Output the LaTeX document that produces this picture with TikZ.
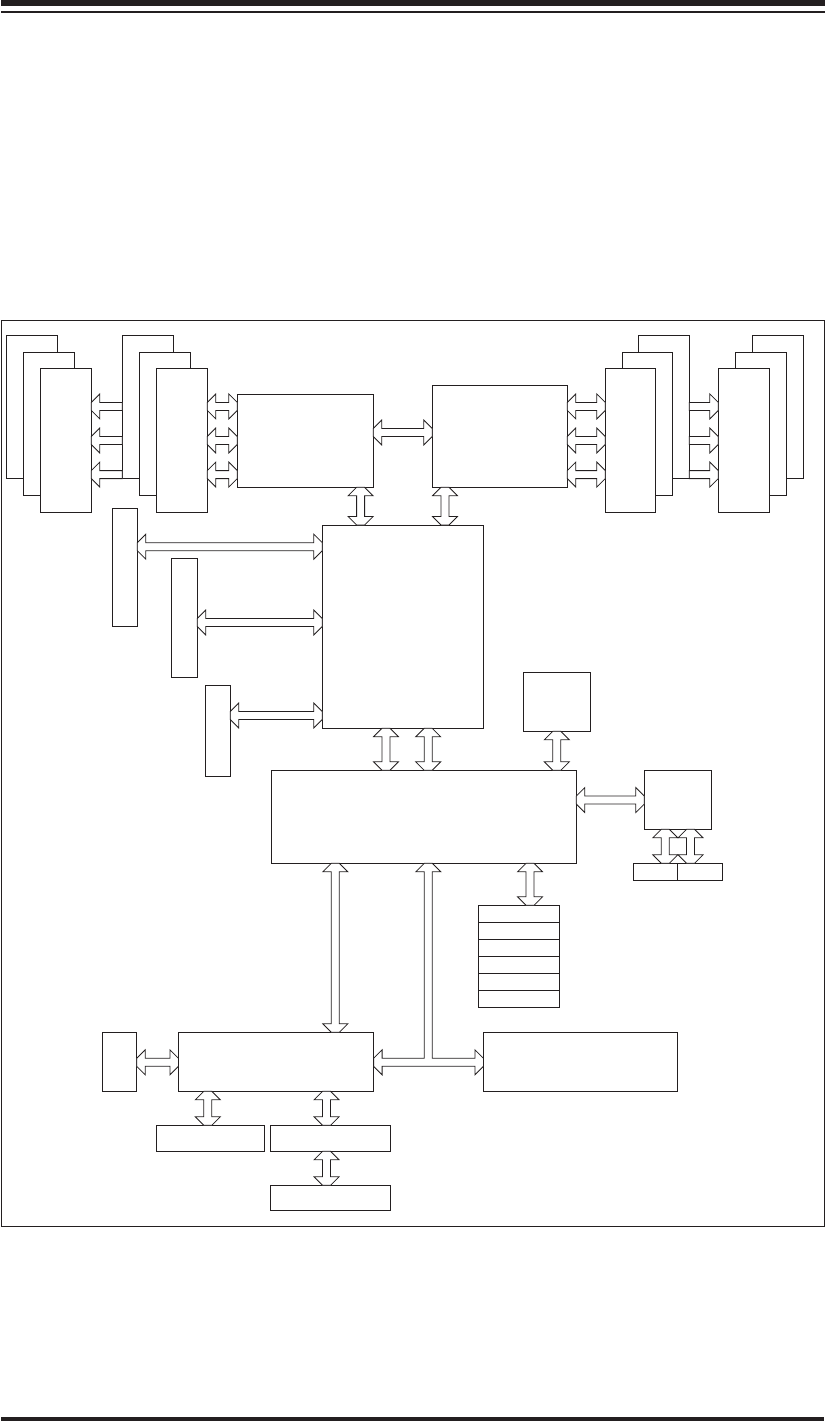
\documentclass[tikz,border=0pt]{standalone}
\usetikzlibrary{calc,fit}
\definecolor{ink}{HTML}{231F20}
\tikzset{
  box/.style={draw=ink, line width=0.9pt, fill=white, inner sep=0pt, outer sep=0pt, rectangle},
  blk/.style={draw=ink, line width=0.8pt, fill=white, line join=miter},
  bar/.style={fill=ink, draw=none},
  framebox/.style={draw=ink, line width=1pt, inner sep=0pt, outer sep=0pt, rectangle}
}
% box: name, x1, y1, x2, y2 (image pixels, y downward)
\newcommand\bx[5]{\node[box, fit={(#2,#3) (#4,#5)}] (#1) {};}
% horizontal double arrow: left tip, right tip
\newcommand\HD[2]{\draw[blk] ($(#1)+(0,-4)$) -- ++(8.5,-8.5) -- ++(0,8.5) -- ($(#2)+(-8.5,-4)$) -- ++(0,-8.5) -- ++(8.5,8.5) -- ++(0,8) -- ++(-8.5,8.5) -- ++(0,-8.5) -- ($(#1)+(8.5,4)$) -- ++(0,8.5) -- ++(-8.5,-8.5) -- cycle;}
% horizontal single arrow, head at left: tip, tail
\newcommand\HL[2]{\draw[blk] ($(#1)+(0,-4)$) -- ++(8.5,-8.5) -- ++(0,8.5) -- ($(#2)+(0,-4)$) -- ++(0,8) -- ($(#1)+(8.5,4)$) -- ++(0,8.5) -- ++(-8.5,-8.5) -- cycle;}
% horizontal single arrow, head at right: tail, tip
\newcommand\HR[2]{\draw[blk] ($(#1)+(0,-4)$) -- ($(#2)+(-8.5,-4)$) -- ++(0,-8.5) -- ++(8.5,8.5) -- ++(0,8) -- ++(-8.5,8.5) -- ++(0,-8.5) -- ($(#1)+(0,4)$) -- cycle;}
% vertical double arrow: top tip, bottom tip
\newcommand\VD[2]{\draw[blk] ($(#1)+(-4,0)$) -- ++(-8.5,8.5) -- ++(8.5,0) -- ($(#2)+(-4,-8.5)$) -- ++(-8.5,0) -- ++(8.5,8.5) -- ++(8,0) -- ++(8.5,-8.5) -- ++(-8.5,0) -- ($(#1)+(4,8.5)$) -- ++(8.5,0) -- ++(-8.5,-8.5) -- cycle;}

\begin{document}
\begin{tikzpicture}[x=1pt,y=-1pt]
\useasboundingbox (0,0) rectangle (826,1421);
% page rules
\fill[bar] (1,0) rectangle (824.5,6);
\fill[bar] (1,11) rectangle (824.5,12.6);
\fill[bar] (1,1417.4) rectangle (824,1421);
% frame
\node[framebox, fit={(1.5,320.5) (824.3,1226.7)}] (frame) {};

% left DIMM stacks
\bx{L1a}{6.3}{335.3}{57.3}{478.3}
\bx{L1b}{23.3}{352.3}{74.3}{495}
\bx{L1c}{40.3}{368.3}{91.3}{512.3}
\bx{L2a}{122.3}{335.3}{173.3}{478.3}
\bx{L2b}{139.3}{352.3}{190.3}{495}
\bx{L2c}{156.3}{368.3}{207.3}{512.3}
% right DIMM stacks
\bx{R1a}{638.3}{335.3}{689.3}{478.3}
\bx{R1b}{622.3}{352.3}{672.3}{495}
\bx{R1c}{605.3}{368.3}{655.7}{512.3}
\bx{R2a}{752.3}{335.3}{803.3}{478.3}
\bx{R2b}{735.3}{352.3}{786.3}{495}
\bx{R2c}{718.3}{368.3}{769.3}{512.3}

% processors
\bx{A}{237.3}{394.3}{373.3}{487.3}
\bx{B}{432.3}{385.3}{567.3}{487.3}
% central hub
\bx{C}{322.3}{525}{483.3}{728.3}
% slots
\bx{S1}{112.3}{508.3}{137.3}{626.3}
\bx{S2}{171.3}{558.3}{197.3}{677.3}
\bx{S3}{205.3}{685.3}{230.3}{776.3}
% south bridge and neighbours
\bx{E}{523.3}{672.3}{590.3}{731.3}
\bx{D}{271.3}{770.3}{576.3}{863.3}
\bx{F}{644.3}{770.3}{711.7}{829.3}
\bx{P1}{633.3}{863.3}{677.7}{880.3}
\bx{P2}{677.7}{863.3}{722.7}{880.3}
% stack of six
\bx{M}{478.4}{905.3}{559.6}{1007.3}
\foreach \yy in {922.3,939.3,956.3,973.3,990.3}
  \draw[ink, line width=0.9pt] (M.west |- 0,\yy) -- (M.east |- 0,\yy);
% lower row
\bx{I}{102.2}{1032.3}{136.7}{1091.3}
\bx{G}{178.4}{1032.3}{373.6}{1091.3}
\bx{H}{483.4}{1032.3}{677.8}{1091.3}
\bx{J}{156.2}{1125.3}{264.5}{1151.3}
\bx{K}{270.3}{1125.3}{390.8}{1151.3}
\bx{L}{270.3}{1185.3}{390.8}{1210.3}

% ---- connectors ----
\foreach \yy in {406.4,440.5,474.6}{
  \HL{L1c.east |- 0,\yy}{L2a.west |- 0,\yy}
  \HD{L2c.east |- 0,\yy}{A.west |- 0,\yy}
  \HD{B.east |- 0,\yy}{R1c.west |- 0,\yy}
  \HR{R1a.east |- 0,\yy}{R2c.west |- 0,\yy}
}
\HD{A.east |- 0,432.5}{B.west |- 0,432.5}
\VD{A.south -| 360.6,0}{C.north -| 360.6,0}
\VD{B.south -| 445,0}{C.north -| 445,0}
\HD{S1.east |- 0,546.7}{C.west |- 0,546.7}
\HD{S2.east |- 0,622.5}{C.west |- 0,622.5}
\HD{S3.east |- 0,715.5}{C.west |- 0,715.5}
\VD{C.south -| 386,0}{D.north -| 386,0}
\VD{C.south -| 428.2,0}{D.north -| 428.2,0}
\VD{E.south -| 556.8,0}{D.north -| 556.8,0}
\HD{D.east |- 0,800}{F.west |- 0,800}
\VD{F.south -| 665.3,0}{P1.north -| 665.3,0}
\VD{F.south -| 690.5,0}{P2.north -| 690.5,0}
\VD{D.south -| 335.3,0}{G.north -| 335.3,0}
\VD{D.south -| 530,0}{M.north -| 530,0}
\HD{I.east |- 0,1062.3}{G.west |- 0,1062.3}
\VD{G.south -| 207.8,0}{J.north -| 207.8,0}
\VD{G.south -| 326.5,0}{K.north -| 326.5,0}
\VD{K.south -| 326.5,0}{L.north -| 326.5,0}
% T-shaped connector from D to G and H
\draw[blk] ($(D.south -| 428.3,0)+(-4,0)$) -- ++(-8.5,8.5) -- ++(8.5,0)
  -- (424.3,1058.3) -- ($(G.east |- 0,1062.3)+(8.5,-4)$) -- ++(0,-8.5) -- ++(-8.5,8.5)
  -- ++(0,8) -- ++(8.5,8.5) -- ++(0,-8.5) -- ($(H.west |- 0,1062.3)+(-8.5,4)$)
  -- ++(0,8.5) -- ++(8.5,-8.5) -- ++(0,-8) -- ++(-8.5,-8.5) -- ++(0,8.5)
  -- (432.3,1058.3) -- ($(D.south -| 428.3,0)+(4,8.5)$) -- ++(8.5,0) -- ++(-8.5,-8.5) -- cycle;
\end{tikzpicture}
\end{document}
